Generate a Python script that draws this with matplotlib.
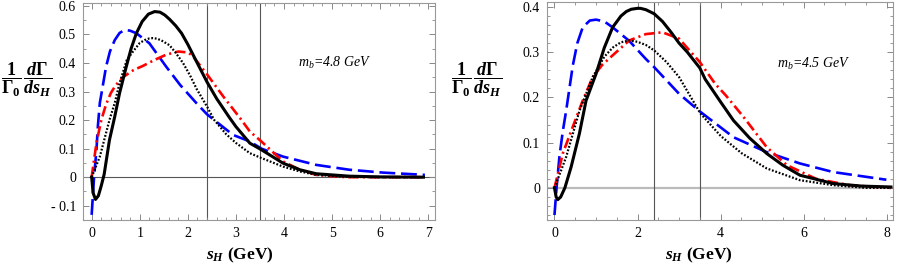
import matplotlib
matplotlib.use("Agg")
import matplotlib.pyplot as plt
from matplotlib.ticker import MultipleLocator, FixedLocator, FixedFormatter

plt.rcParams["font.family"] = ["Liberation Serif", "DejaVu Serif"]
plt.rcParams["mathtext.fontset"] = "custom"
plt.rcParams["mathtext.rm"] = "Liberation Serif"
plt.rcParams["mathtext.it"] = "Liberation Serif:italic"
plt.rcParams["mathtext.bf"] = "Liberation Serif:bold"
plt.rcParams["mathtext.bfit"] = "Liberation Serif:italic:bold"

# ---- panel a: m_b = 4.8 GeV ----
a_black_x = [0, 0.03, 0.08, 0.14, 0.2, 0.26, 0.37, 0.48, 0.58, 0.72, 0.82, 0.93, 1.05, 1.18, 1.31,
             1.42, 1.52, 1.62, 1.75, 1.87, 2.0, 2.18, 2.4, 2.6, 2.86, 3.0, 3.29, 3.53, 3.98, 4.33,
             4.67, 5.36, 6.0, 6.9]
a_black_y = [0, -0.055, -0.078, -0.065, -0.03, 0.01, 0.13, 0.212, 0.294, 0.387, 0.45, 0.504, 0.545,
             0.571, 0.58, 0.578, 0.568, 0.553, 0.53, 0.504, 0.465, 0.405, 0.333, 0.275, 0.21, 0.177,
             0.119, 0.096, 0.049, 0.026, 0.012, 0.0035, 0.001, 0.0]
a_blue_x = [0, 0.05, 0.1, 0.13, 0.17, 0.3, 0.38, 0.48, 0.58, 0.69, 0.8, 0.93, 1.2, 1.55, 1.84, 2.18,
            2.4, 2.94, 3.29, 3.53, 3.98, 4.67, 5.36, 6.06, 6.93]
a_blue_y = [-0.132, 0.0, 0.096, 0.18, 0.26, 0.387, 0.44, 0.48, 0.505, 0.516, 0.513, 0.504, 0.469,
            0.387, 0.323, 0.259, 0.22, 0.148, 0.125, 0.1, 0.072, 0.043, 0.026, 0.016, 0.008]
a_red_x = [0, 0.1, 0.2, 0.3, 0.4, 0.5, 0.65, 0.87, 1.07, 1.3, 1.55, 1.8, 2.0, 2.1, 2.4, 2.74,
           3.09, 3.29, 3.53, 3.98, 4.33, 4.67, 5.3, 6.0, 6.9]
a_red_y = [0, 0.12, 0.2, 0.255, 0.295, 0.322, 0.35, 0.375, 0.39, 0.41, 0.429, 0.44, 0.437, 0.425,
           0.36, 0.282, 0.206, 0.16, 0.125, 0.055, 0.026, 0.008, 0.0, 0.0, 0.0]
a_dot_x = [0, 0.17, 0.37, 0.48, 0.58, 0.73, 0.86, 1.0, 1.1, 1.2, 1.27, 1.36, 1.45, 1.62, 1.75, 1.9,
           2.05, 2.18, 2.4, 2.55, 2.8, 3.0, 3.29, 3.53, 3.98, 4.33, 4.67, 5.3, 6.0, 6.9]
a_dot_y = [0, 0.072, 0.2, 0.26, 0.329, 0.41, 0.44, 0.47, 0.48, 0.486, 0.487, 0.485, 0.479, 0.462,
           0.435, 0.40, 0.355, 0.31, 0.247, 0.2, 0.15, 0.12, 0.084, 0.067, 0.037, 0.02, 0.008,
           0.001, 0.0, 0.0]

# ---- panel b: m_b = 4.5 GeV ----
b_black_x = [0, 0.04, 0.08, 0.15, 0.25, 0.4, 0.6, 0.76, 1.0, 1.2, 1.4, 1.6, 1.73, 1.85, 2.0, 2.07,
             2.2, 2.4, 2.6, 2.8, 3.0, 3.2, 3.5, 3.63, 4.0, 4.31, 4.7, 5.11, 5.5, 5.91, 6.71, 7.4, 8.1]
b_black_y = [0, -0.02, -0.026, -0.02, 0.0, 0.046, 0.12, 0.193, 0.252, 0.31, 0.355, 0.38, 0.39,
             0.395, 0.397, 0.397, 0.394, 0.385, 0.368, 0.345, 0.32, 0.3, 0.265, 0.24, 0.19, 0.149,
             0.11, 0.076, 0.05, 0.028, 0.0096, 0.004, 0.002]
b_blue_x = [0, 0.05, 0.12, 0.2, 0.28, 0.44, 0.55, 0.68, 0.85, 1.0, 1.2, 1.4, 1.8, 2.2, 2.4, 3.0,
            3.5, 4.31, 5.11, 5.91, 6.71, 7.99]
b_blue_y = [-0.06, 0.0, 0.07, 0.125, 0.17, 0.27, 0.32, 0.355, 0.37, 0.372, 0.368, 0.355, 0.325,
            0.285, 0.267, 0.208, 0.169, 0.112, 0.079, 0.054, 0.035, 0.018]
b_red_x = [0, 0.2, 0.44, 0.68, 0.92, 1.15, 1.4, 1.8, 2.2, 2.6, 3.0, 3.5, 3.87, 4.13, 4.55, 5.11,
           5.6, 6.3, 7.1, 8.1]
b_red_y = [0, 0.076, 0.135, 0.193, 0.245, 0.272, 0.293, 0.326, 0.34, 0.344, 0.33, 0.278, 0.23,
           0.204, 0.157, 0.09, 0.05, 0.02, 0.006, 0.0]
b_dot_x = [0, 0.28, 0.6, 0.92, 1.2, 1.4, 1.6, 1.8, 2.0, 2.2, 2.4, 2.7, 3.0, 3.51, 4.0, 4.5, 5.11,
           5.91, 6.71, 7.5, 8.1]
b_dot_y = [0, 0.068, 0.17, 0.245, 0.29, 0.31, 0.322, 0.326, 0.323, 0.316, 0.304, 0.278, 0.245,
           0.165, 0.115, 0.077, 0.043, 0.017, 0.006, 0.0, 0.0]

cuts = [2.4, 3.5]

YLAB = (r"$\dfrac{\mathbf{1}}{\mathbf{\Gamma_0}}\,"
        r"\dfrac{\boldsymbol{d}\mathbf{\Gamma}}{\boldsymbol{d}\boldsymbol{s}_\boldsymbol{H}}$")
XLAB = r"$\boldsymbol{s}_\boldsymbol{H}$ $\mathbf{(GeV)}$"


def panel(ax, curves, xlim, ylim, xmaj, xmin, ymin, yticks, ylabels, zero_style, note, note_xy):
    blk, blu, red, dot = curves
    ax.axhline(0, **zero_style, zorder=1)
    for c in cuts:
        ax.axvline(c, color="#555555", lw=0.8, zorder=1)
    ax.plot(*blu, color="#0000ff", lw=1.9, dashes=(6, 2.2), zorder=3)
    ax.plot(*red, color="#ff0000", lw=1.9, dashes=(4, 1.5, 0.8, 1.5), zorder=3)
    ax.plot(*dot, color="black", lw=1.6, dashes=(0.8, 0.8), zorder=3)
    ax.plot(*blk, color="black", lw=2.2, zorder=4, solid_joinstyle="round")
    ax.set_xlim(*xlim)
    ax.set_ylim(*ylim)
    ax.xaxis.set_major_locator(MultipleLocator(xmaj))
    ax.xaxis.set_minor_locator(MultipleLocator(xmin))
    ax.yaxis.set_major_locator(FixedLocator(yticks))
    ax.yaxis.set_major_formatter(FixedFormatter(ylabels))
    ax.yaxis.set_minor_locator(MultipleLocator(ymin))
    ax.tick_params(which="both", direction="in", top=True, right=True, color="#888888",
                   labelsize=10)
    ax.tick_params(which="major", length=4, width=0.7)
    ax.tick_params(which="minor", length=2, width=0.6)
    ax.tick_params(axis="x", pad=5)
    ax.tick_params(axis="y", pad=5)
    for s in ax.spines.values():
        s.set_color("#999999")
        s.set_linewidth(0.8)
    ax.text(*note_xy, note, fontsize=10, style="italic", va="center", ha="left")


fig = plt.figure(figsize=(9, 2.67), dpi=100)
ax1 = fig.add_axes([83 / 900, 1 - 220 / 267, (435 - 83) / 900, (220 - 3) / 267])
ax2 = fig.add_axes([547 / 900, 1 - 220 / 267, (893 - 547) / 900, (220 - 2) / 267])

panel(ax1,
      [(a_black_x, a_black_y), (a_blue_x, a_blue_y), (a_red_x, a_red_y), (a_dot_x, a_dot_y)],
      (-0.18, 7.14), (-0.15, 0.61), 1, 0.2, 0.05,
      [-0.1, 0, 0.1, 0.2, 0.3, 0.4, 0.5, 0.6],
      ["- 0.1", "0", "0.1", "0.2", "0.3", "0.4", "0.5", "0.6"],
      dict(color="#555555", lw=0.8), r"$m_b$=4.8 GeV", (4.3, 0.40))

panel(ax2,
      [(b_black_x, b_black_y), (b_blue_x, b_blue_y), (b_red_x, b_red_y), (b_dot_x, b_dot_y)],
      (-0.18, 8.15), (-0.071, 0.411), 2, 0.5, 0.02,
      [0, 0.1, 0.2, 0.3, 0.4],
      ["0", "0.1", "0.2", "0.3", "0.4"],
      dict(color="#bbbbbb", lw=1.6), r"$m_b$=4.5 GeV", (5.35, 0.274))

fig.text(1 / 900, 1 - 80 / 267, YLAB, fontsize=13, ha="left", va="center")
fig.text(451 / 900, 1 - 80 / 267, YLAB, fontsize=13, ha="left", va="center")
fig.text(240 / 900, 1 - 255 / 267, XLAB, fontsize=12.5, ha="center", va="center")
fig.text(699 / 900, 1 - 255 / 267, XLAB, fontsize=12.5, ha="center", va="center")

fig.savefig("out.png", dpi=100)
